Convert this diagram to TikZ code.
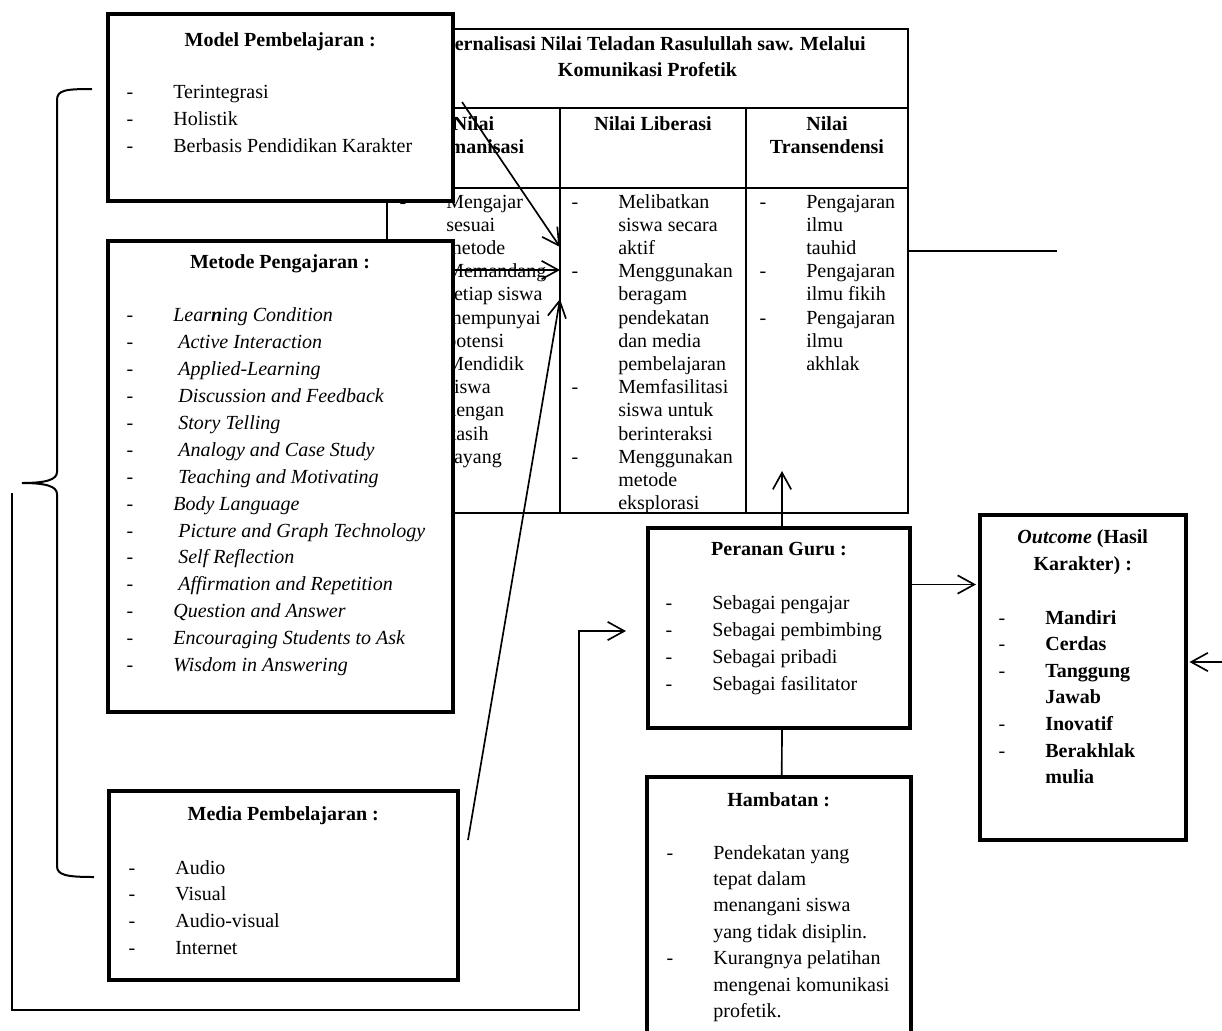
\documentclass[tikz,border=0pt]{standalone}
\usepackage{fontspec}
\setmainfont{Liberation Serif}
\usetikzlibrary{arrows.meta,positioning,fit,calc}
\newcommand\dfont{\fontsize{12}{14}\selectfont}
\tikzset{
 box/.style={draw,line width=2.4pt,fill=white,inner sep=0pt},
 tblframe/.style={draw,line width=1pt,inner sep=0pt},
 tblline/.style={line width=1pt},
 boxtitle/.style={font=\dfont\bfseries,anchor=base,inner sep=0pt},
 item/.style={font=\dfont,anchor=base west,inner sep=0pt},
 hyph/.style={font=\dfont,anchor=base,inner sep=0pt},
 link/.style={line width=1pt},
 arrow/.style={link,-{Straight Barb[length=10pt,width=11pt]}},
 curly/.style={line width=1.2pt}}
\begin{document}
\begin{tikzpicture}[x=0.6pt,y=-0.6pt]
\useasboundingbox (0,0) rectangle (1222,1030);
% tabel komunikasi profetik
\node[tblframe,fit={(387,29) (908,513)}] (tbl) {};
\draw[tblline] (387,108) -- (908,108) (387,188) -- (908,188) (560,108) -- (560,513) (746,108) -- (746,513);
\node[boxtitle] (tt1) at (647.5,50) {Internalisasi Nilai Teladan Rasulullah saw. Melalui};
\node[boxtitle] (tt2) at (647.5,76) {Komunikasi Profetik};
\node[boxtitle] (hh1) at (473.5,130) {Nilai};
\node[boxtitle] (hh2) at (473.5,153) {Humanisasi};
\node[boxtitle] (lh) at (653,130) {Nilai Liberasi};
\node[boxtitle] (th1) at (827,130) {Nilai};
\node[boxtitle] (th2) at (827,153) {Transendensi};
\foreach \t [count=\i from 0] in {Mengajar,sesuai,metode,Memandang,setiap siswa,mempunyai,potensi,Mendidik,siswa,dengan,kasih,sayang}
  \node[item] (hum\i) at (446,208+23.2*\i) {\t};
\foreach \i in {0,3,7} \node[hyph] (humd\i) at (403,208+23.2*\i) {-};
\foreach \t [count=\i from 0] in {Melibatkan,siswa secara,aktif,Menggunakan,beragam,pendekatan,dan media,pembelajaran,Memfasilitasi,siswa untuk,berinteraksi,Menggunakan,metode,eksplorasi}
  \node[item] (lib\i) at (618,208+23.2*\i) {\t};
\foreach \i in {0,3,8,11} \node[hyph] (libd\i) at (575,208+23.2*\i) {-};
\foreach \t [count=\i from 0] in {Pengajaran,ilmu,tauhid,Pengajaran,ilmu fikih,Pengajaran,ilmu,akhlak}
  \node[item] (tra\i) at (806,208+23.2*\i) {\t};
\foreach \i in {0,3,5} \node[hyph] (trad\i) at (763,208+23.2*\i) {-};
% kotak kiri
\node[box,fit={(108,14) (452.5,200.5)}] (model) {};
\node[boxtitle] (modelT) at ($(model.north)+(0,34)$) {Model Pembelajaran :};
\foreach \t [count=\i from 0] in {Terintegrasi,Holistik,Berbasis Pendidikan Karakter}{
  \node[hyph] (mpd\i) at (130,98+27.4*\i) {-};
  \node[item] (mp\i) at (173,98+27.4*\i) {\t};}
\node[box,fit={(107.5,240.5) (452.5,712)}] (metode) {};
\node[boxtitle] (metodeT) at ($(metode.north)+(0,29.5)$) {Metode Pengajaran :};
\foreach \t [count=\i from 0] in {Lear{\bfseries n}ing Condition,\ Active Interaction,\ Applied-Learning,\ Discussion and Feedback,\ Story Telling,\ Analogy and Case Study,\ Teaching and Motivating,Body Language,\ Picture and Graph Technology,\ Self Reflection,\ Affirmation and Repetition,Question and Answer,Encouraging Students to Ask,Wisdom in Answering}{
  \node[hyph] (mtd\i) at (130,321.7+26.92*\i) {-};
  \node[item,font=\dfont\itshape] (mt\i) at (173,321.7+26.92*\i) {\t};}
\node[box,fit={(108.5,791) (458,980)}] (media) {};
\node[boxtitle] (mediaT) at ($(media.north)+(0,31)$) {Media Pembelajaran :};
\foreach \t [count=\i from 0] in {Audio,Visual,Audio-visual,Internet}{
  \node[hyph] (mdd\i) at (132,874+26.7*\i) {-};
  \node[item] (md\i) at (175,874+26.7*\i) {\t};}
% kotak kanan
\node[box,fit={(648,527.5) (910,728)}] (peranan) {};
\node[boxtitle] (perananT) at ($(peranan.north)+(0,29.5)$) {Peranan Guru :};
\foreach \t [count=\i from 0] in {Sebagai pengajar,Sebagai pembimbing,Sebagai pribadi,Sebagai fasilitator}{
  \node[hyph] (pgd\i) at (669,609+27*\i) {-};
  \node[item] (pg\i) at (712,609+27*\i) {\t};}
\node[box,fit={(980,515) (1185.5,839.5)}] (outcome) {};
\node[boxtitle] (outcomeT1) at ($(outcome.north)+(0,30)$) {\textit{Outcome} (Hasil};
\node[boxtitle] (outcomeT2) at ($(outcome.north)+(0,57)$) {Karakter) :};
\foreach \t [count=\i from 0] in {Mandiri,Cerdas,Tanggung,Jawab,Inovatif,Berakhlak,mulia}
  \node[item,font=\dfont\bfseries] (oc\i) at (1045,624+26.6*\i) {\t};
\foreach \i in {0,1,2,4,5} \node[hyph] (ocd\i) at (1002,624+26.6*\i) {-};
\node[box,fit={(646.5,777) (911,1060)}] (hambatan) {};
\node[boxtitle] (hambatanT) at ($(hambatan.north)+(0,31)$) {Hambatan :};
\foreach \t [count=\i from 0] in {Pendekatan yang,tepat dalam,menangani siswa,yang tidak disiplin.,Kurangnya pelatihan,mengenai komunikasi,profetik.}
  \node[item] (hb\i) at (713,859+26.4*\i) {\t};
\foreach \i in {0,4} \node[hyph] (hbd\i) at (670,859+26.4*\i) {-};
% kurung kurawal
\draw[curly] (92,89) .. controls (66,89) and (57,90) .. (57,100) -- (57,472)
  .. controls (57,480) and (45,483) .. (22,483) .. controls (45,483) and (57,486) .. (57,494)
  -- (57,866) .. controls (57,875) and (66,877) .. (94,877);
% penghubung
\coordinate (hin1) at (560,247); \coordinate (hin2) at (560,270); \coordinate (hin3) at (560,299);
\coordinate (a1) at (462,102); \coordinate (a3) at (468,840);
\coordinate (tr) at (1057,251); \coordinate (ocin) at (1222,662);
\coordinate (lp) at (12,493); \coordinate (pin) at (626,631);
\coordinate (po) at ($(peranan.north east)+(0,59)$);
\draw[arrow] (a1) -- (hin1);
\draw[arrow] (metode.east |- hin2) -- (hin2);
\draw[arrow] (a3) -- (hin3);
\draw[link] (tbl.east |- tr) -- (tr);
\draw[arrow] ($(peranan.north)+(3,0)$) -- ($(peranan.north)+(3,-54.5)$);
\draw[link] ($(peranan.south)+(3,0)$) -- ($(hambatan.north)+(3,0)$);
\draw[arrow] (po) -- ($(outcome.west |- po)+(-2,0)$);
\draw[arrow] (ocin) -- ($(outcome.east |- ocin)+(2,0)$);
\draw[arrow] (lp) -- (12,1010) -- (579,1010) -- (579,631) -- (pin);
\end{tikzpicture}
\end{document}
